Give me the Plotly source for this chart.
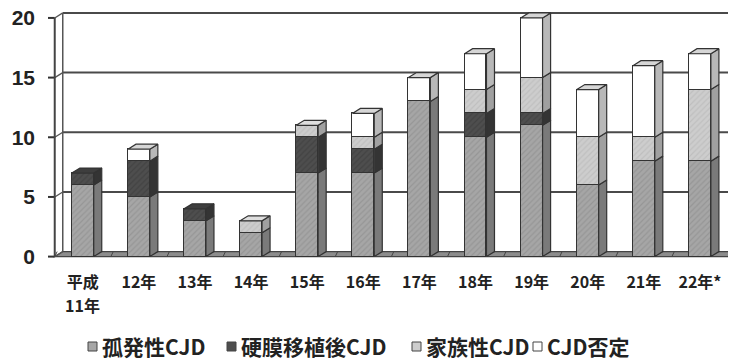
import plotly.graph_objects as go

# Yearly counts (平成11年 – 22年)
years = ["平成", "12年", "13年", "14年", "15年", "16年",
         "17年", "18年", "19年", "20年", "21年", "22年*"]
first_year_suffix = "11年"   # second line under 平成
sporadic = [6, 5, 3, 2, 7, 7, 13, 10, 11, 6, 8, 8]
dura_mater = [1, 3, 1, 0, 3, 2, 0, 2, 1, 0, 0, 0]
familial = [0, 0, 0, 1, 1, 1, 0, 2, 3, 4, 2, 6]
non_cjd = [0, 1, 0, 0, 0, 2, 2, 3, 5, 4, 6, 3]
series_names = ["孤発性CJD", "硬膜移植後CJD", "家族性CJD", "CJD否定"]
y_ticks = [0, 5, 10, 15, 20]

series = [sporadic, dura_mater, familial, non_cjd]
front = ["#a6a6a6", "#4e4e4e", "#cdcdcd", "#ffffff"]
hatch = ["#868686", "#383838", "#b2b2b2", "#ffffff"]
side = ["#7a7a7a", "#343434", "#a0a0a0", "#b8b8b8"]
top = ["#c2c2c2", "#3e3e3e", "#dedede", "#d6d6d6"]
edge = "#333333"

# canvas / plot-area geometry
W_PX, H_PX = 729, 361
ML, MR, MT, MB = 48, 1, 6, 102
PW, PH = W_PX - ML - MR, H_PX - MT - MB


def px_x(p):
    return (p - ML) / PW


def px_y(p):
    return (H_PX - MB - p) / PH


# pseudo-3D geometry (in axis units)
DX, DY, W = 0.143, 0.42, 0.39
x_pos = list(range(len(years)))

fig = go.Figure()

# front faces
for k, (name, vals) in enumerate(zip(series_names, series)):
    fig.add_trace(go.Bar(
        x=x_pos, y=vals, name=name, width=W, showlegend=False,
        marker=dict(color=front[k], line=dict(color=edge, width=1.3),
                    pattern=dict(shape="/" if k != 3 else "", size=4,
                                 solidity=0.3, fgcolor=hatch[k],
                                 bgcolor=front[k])),
        hoverinfo="skip",
    ))

# side and top faces
side_xy = [([], []) for _ in series]
top_xy = [([], []) for _ in series]
for i in x_pos:
    base = 0
    last = None
    for k, vals in enumerate(series):
        h = vals[i]
        if h <= 0:
            continue
        xr = i + W / 2
        sx, sy = side_xy[k]
        sx += [xr, xr + DX, xr + DX, xr, xr, None]
        sy += [base, base + DY, base + h + DY, base + h, base, None]
        base += h
        last = k
    if last is not None:
        xl, xr = i - W / 2, i + W / 2
        tx, ty = top_xy[last]
        tx += [xl, xl + DX, xr + DX, xr, xl, None]
        ty += [base, base + DY, base + DY, base, base, None]

for k in range(len(series)):
    for (xs, ys), col in ((side_xy[k], side[k]), (top_xy[k], top[k])):
        if xs:
            fig.add_trace(go.Scatter(
                x=xs, y=ys, mode="lines", fill="toself", fillcolor=col,
                line=dict(color=edge, width=1.2), showlegend=False,
                hoverinfo="skip",
            ))

# walls, floor and grid
x0, x1 = -0.5, len(years) - 0.5
shapes = []
grid = dict(color="#4a4a4a", width=2)
shapes.append(dict(type="path", layer="below",
                   path=f"M{x0},0 L{x1 + 1},0 L{x1 + 1},{DY} L{x0 + DX},{DY} Z",
                   fillcolor="#8c8c8c", line=dict(color="#444", width=1.2)))
for i in range(len(years) + 1):
    xb = x0 + i
    shapes.append(dict(type="line", layer="below", x0=xb, x1=xb + DX * 0.3,
                       y0=0, y1=DY, line=dict(color="#444", width=1)))
for v in y_ticks[1:]:
    shapes.append(dict(type="line", layer="below", x0=x0 + DX, x1=x1 + 1,
                       y0=v + DY, y1=v + DY, line=grid))
for v in y_ticks:
    shapes.append(dict(type="line", layer="below", x0=x0, x1=x0 + DX,
                       y0=v, y1=v + DY, line=dict(color="#555", width=1.3)))
    shapes.append(dict(type="line", layer="below", x0=x0 - 0.14, x1=x0,
                       y0=v, y1=v, line=dict(color="#333", width=2)))
shapes.append(dict(type="line", layer="below", x0=x0, x1=x0, y0=0,
                   y1=y_ticks[-1], line=dict(color="#444", width=2)))
shapes.append(dict(type="line", layer="below", x0=x0 + DX, x1=x0 + DX,
                   y0=DY, y1=y_ticks[-1] + DY, line=dict(color="#555", width=1.5)))

tick_font = dict(family="Noto Sans CJK JP", size=16, color="#222", weight="bold")
annotations = [dict(text=first_year_suffix, xref="x", yref="paper",
                    x=x_pos[0], y=px_y(305), xanchor="center",
                    yanchor="middle", showarrow=False, font=tick_font)]

# legend row: small outlined swatch followed by its label
legend_font = dict(family="Noto Sans CJK JP", size=21, color="#222", weight="bold")
swatch_left = [88, 227, 412, 533]
for k, name in enumerate(series_names):
    sx = swatch_left[k]
    shapes.append(dict(type="rect", xref="paper", yref="paper",
                       x0=px_x(sx), x1=px_x(sx + 9),
                       y0=px_y(351), y1=px_y(342),
                       fillcolor=front[k], line=dict(color="#444", width=1)))
    annotations.append(dict(text=name, xref="paper", yref="paper",
                            x=px_x(sx + 12), y=px_y(346), xanchor="left",
                            yanchor="middle", showarrow=False,
                            font=legend_font))

fig.update_layout(
    width=W_PX, height=H_PX,
    margin=dict(l=ML, r=MR, t=MT, b=MB),
    plot_bgcolor="white", paper_bgcolor="white",
    barmode="stack", bargap=0,
    shapes=shapes, annotations=annotations,
    showlegend=False,
    xaxis=dict(range=[-0.62, 11.5], tickvals=x_pos, ticktext=years,
               showgrid=False, zeroline=False, showline=False, ticks="",
               ticklabelstandoff=12, tickfont=tick_font),
    yaxis=dict(range=[-0.2, 21], tickvals=y_ticks, showgrid=False,
               zeroline=False, showline=False, ticks="",
               ticklabelstandoff=12,
               tickfont=dict(family="Liberation Sans", size=21, color="#222",
                             weight="bold")),
)

fig.write_html("out.html")
